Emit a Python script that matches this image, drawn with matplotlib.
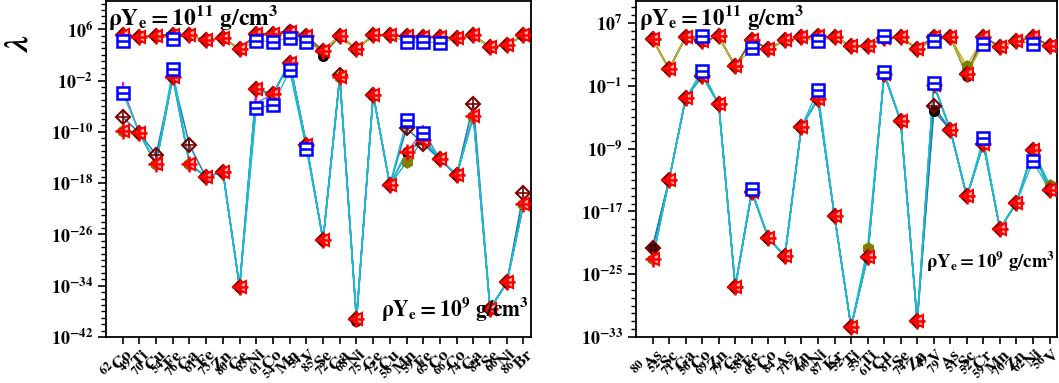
import numpy as np
import matplotlib
matplotlib.use("Agg")
import matplotlib.pyplot as plt
from matplotlib.ticker import FixedLocator, FuncFormatter, NullFormatter

plt.rcParams['mathtext.fontset'] = 'stix'
plt.rcParams['font.family'] = ['Liberation Serif', 'DejaVu Serif']
plt.rcParams['font.weight'] = 'bold'

nan = np.nan

# ---------------- left panel ----------------
left_nuclei = ['62Co', '49Ti', '70Cu', '54Fe', '76Ga', '61Fe', '73Zn', '80Ge', '63Ni', '61Co',
               '54Mn', '54V', '85Se', '72Ga', '68Ni', '75Ge', '72Cu', '58Mn', '59Fe', '63Co',
               '66Co', '74Ga', '84Se', '66Ni', '86Br']
# log10(lambda) at rhoYe = 1e11
left_hi_tri = [5.06, 4.85, 4.95, 5.17, 5.06, 4.3, 4.7, 2.86, 5.2, 5.2,
               5.6, 4.95, 2.6, 5.0, 2.86, 5.06, 5.06, 4.9, 4.75, 4.75,
               4.6, 5.06, 3.2, 3.5, 5.06]
left_hi_circ = [None]*10 + [5.9, None, 1.9] + [None]*12
left_hi_sq = [4.17, nan, nan, 4.54, nan, nan, nan, nan, 4.17, 4.07,
              4.7, 4.0, nan, nan, nan, nan, nan, 4.0, 4.0, 3.9,
              nan, nan, nan, nan, nan]
# log10(lambda) at rhoYe = 1e9
left_lo_tri = [-9.8, -10.2, -15.0, -1.4, -15.0, -17.1, -16.2, -34.2, -3.4, -4.1,
               0.78, -12.0, -26.9, -1.5, -39.2, -4.2, -18.3, -13.2, -11.2, -14.3,
               -16.75, -7.5, -37.6, -33.5, -21.3]
left_lo_diam = [-7.7, None, -13.6, None, -12.1, None, None, None, None, None,
                None, None, None, -1.2, None, None, None, -9.4, -11.9, None,
                None, -5.6, None, None, -19.5]
left_lo_circ = [None]*14 + [-39.5] + [None]*10
left_lo_hex = [None]*17 + [-14.7] + [None]*7
left_lo_sq = [-3.9, nan, nan, -0.27, nan, nan, nan, nan, -6.3, -5.8,
              -0.43, -12.7, nan, nan, nan, nan, nan, -8.2, -10.2, nan,
              nan, nan, nan, nan, nan]
left_lo_mag = [-3.1, nan, nan, nan, nan, nan, nan, nan, -5.5, nan,
               nan, nan, nan, nan, nan, nan, nan, nan, -9.8, nan,
               nan, nan, nan, nan, nan]

# ---------------- right panel ----------------
right_nuclei = ['80As', '52Sc', '71Ga', '56Co', '69Zn', '79Ga', '58Fe', '65Co', '84As', '71Zn',
                '60Ni', '87Kr', '52Ti', '53Ti', '61Cu', '81Se', '74Zn', '49V', '79As', '51Sc',
                '52Cr', '59Mn', '70Zn', '62Ni', '56V']
right_hi_tri = [4.96, 1.13, 5.2, 4.65, 5.3, 1.47, 4.87, 3.68, 4.78, 5.2,
                5.3, 5.2, 4.1, 4.1, 5.1, 5.2, 3.7, 5.25, 5.2, 0.5,
                5.2, 4.0, 4.7, 5.2, 4.1]
right_hi_circ = [None]*19 + [0.3] + [None]*5
right_hi_hex = [None]*19 + [1.5] + [None]*5
right_hi_sq = [nan, nan, nan, 5.38, nan, nan, 3.8, nan, nan, nan,
               4.65, nan, nan, nan, 5.38, nan, nan, 4.7, nan, nan,
               4.35, nan, nan, 4.35, nan]
right_lo_tri = [-23.1, -13.0, -2.6, 0.28, -3.3, -26.6, -14.5, -20.4, -22.7, -6.2,
                -2.7, -17.6, -31.7, -22.8, 0.5, -5.5, -31.0, -0.9, -6.6, -15.1,
                -8.4, -19.2, -15.9, -9.2, -14.3]
right_lo_diam = [-21.6] + [None]*16 + [-3.6] + [None]*7
right_lo_circ = [-21.6] + [None]*16 + [-4.2] + [None]*7
right_lo_hex = [None]*13 + [-21.7] + [None]*10 + [-13.6]
right_lo_sq = [nan, nan, nan, 0.92, nan, nan, -14.2, nan, nan, nan,
               -1.6, nan, nan, nan, 0.7, nan, nan, -0.6, nan, nan,
               -7.7, nan, nan, -10.6, nan]


def fill(dev, base):
    return np.array([b if d is None else d for d, b in zip(dev, base)], dtype=float)


def label(n):
    i = 0
    while n[i].isdigit():
        i += 1
    return r'$\mathbf{^{%s}%s}$' % (n[:i], n[i:])


def draw_group(ax, x, tri, circ, hexa, diam, sq, mag, lines):
    tri = np.array(tri, dtype=float)
    c = fill(circ, tri)
    h = fill(hexa, tri)
    d = fill(diam, tri)
    s = np.array(sq, dtype=float)
    s_line = np.where(np.isnan(s), tri, s)
    m = np.array(mag, dtype=float)
    m_line = np.where(np.isnan(m), tri, m)
    ax.plot(x, 10**c, '-', color=lines[0], lw=1.1, zorder=2)
    ax.plot(x, 10**c, 'o', color='black', ms=7, zorder=3)
    ax.plot(x, 10**h, '-', color=lines[1], lw=1.1, zorder=2)
    ax.plot(x, 10**h, 'h', color='#808000', ms=8, zorder=3)
    ax.plot(x, 10**d, '-', color=lines[2], lw=1.1, zorder=2)
    ax.plot(x, 10**d, 'D', mfc='none', mec='#7a0000', mew=1.5, ms=7, zorder=4)
    ax.plot(x, 10**d, '+', color='#7a0000', mew=1.2, ms=8, zorder=4)
    ax.plot(x, 10**m_line, '-', color=lines[4], lw=1.0, zorder=2)
    ax.plot(x, 10**m, '+', color='magenta', mew=1.5, ms=8, zorder=5)
    ax.plot(x, 10**tri, '-', color=lines[3], lw=1.1, zorder=2)
    ax.plot(x, 10**tri, '<', mfc='#ffb0b0', mec='red', mew=1.5, ms=9, zorder=5)
    ax.plot(x, 10**tri, '+', color='red', mew=1.8, ms=11, zorder=6)
    ax.plot(x, 10**s_line, '-', color=lines[5], lw=1.0, zorder=2)
    ax.plot(x, 10**s, 's', mfc='white', mec='blue', mew=1.8, ms=8, zorder=7)
    ax.plot(x, 10**s, '_', color='blue', mew=1.8, ms=8, zorder=8)


hi_lines = ['#8c564b', '#bcbd22', '#8c564b', '#8c564b', '#bcbd22', '#bcbd22']
lo_lines = ['#1f77b4', '#17becf', '#1f77b4', '#17becf', '#9467bd', '#17becf']

fig = plt.figure(figsize=(10.59, 3.83), dpi=100)
axL = fig.add_axes([106/1059, 1 - 337/383, 425/1059, 336/383])
axR = fig.add_axes([636/1059, 1 - 337/383, 421/1059, 336/383])

none25 = [None]*25
nan25 = [nan]*25

xl = np.arange(len(left_nuclei))
draw_group(axL, xl, left_hi_tri, left_hi_circ, none25, none25, left_hi_sq, nan25, hi_lines)
draw_group(axL, xl, left_lo_tri, left_lo_circ, left_lo_hex, left_lo_diam, left_lo_sq, left_lo_mag, lo_lines)

xr = np.arange(len(right_nuclei))
draw_group(axR, xr, right_hi_tri, right_hi_circ, right_hi_hex, none25, right_hi_sq, nan25, hi_lines)
draw_group(axR, xr, right_lo_tri, right_lo_circ, right_lo_hex, right_lo_diam, right_lo_sq, nan25, lo_lines)


def style(ax, names, ylo, yhi, majors):
    ax.set_yscale('log')
    ax.set_ylim(10.0**ylo, 10.0**yhi)
    ax.set_xlim(-1, len(names) - 0.55)
    ax.yaxis.set_major_locator(FixedLocator([10.0**k for k in majors]))
    ax.yaxis.set_minor_locator(FixedLocator([10.0**k for k in range(ylo, int(yhi) + 1)]))
    ax.yaxis.set_minor_formatter(NullFormatter())
    ax.yaxis.set_major_formatter(FuncFormatter(
        lambda v, p: r'$\mathbf{10^{%d}}$' % int(round(np.log10(v)))))
    ax.set_xticks(np.arange(len(names)))
    ax.set_xticklabels([label(n) for n in names], rotation=45, ha='right', va='top',
                       rotation_mode='anchor', fontsize=12.5)
    ax.tick_params(axis='y', which='major', length=6, width=1.2, labelsize=13, direction='out')
    ax.tick_params(axis='y', which='minor', length=3.5, width=1.0, direction='out')
    ax.tick_params(axis='x', length=5, width=1.2, direction='out', pad=0)
    for sp in ax.spines.values():
        sp.set_linewidth(1.3)


style(axL, left_nuclei, -42, 10.4, range(-42, 7, 8))
style(axR, right_nuclei, -33, 9.8, range(-33, 8, 8))

t11 = r'$\mathbf{\rho Y_e = 10^{11}\ g/cm^3}$'
t9 = r'$\mathbf{\rho Y_e = 10^{9}\ g/cm^3}$'
axL.text(0.005, 0.995, t11, transform=axL.transAxes, fontsize=17, ha='left', va='top', zorder=10)
axL.text(0.995, 0.085, t9, transform=axL.transAxes, fontsize=15.5, ha='right', va='center', zorder=10)
axR.text(0.008, 0.995, t11, transform=axR.transAxes, fontsize=16.5, ha='left', va='top', zorder=10)
axR.text(0.995, 0.225, t9, transform=axR.transAxes, fontsize=13.5, ha='right', va='center', zorder=10)

fig.text(0.018, 0.885, r'$\lambda$', rotation=90, fontsize=24, ha='center', va='center')

fig.savefig('out.png', dpi=100)
